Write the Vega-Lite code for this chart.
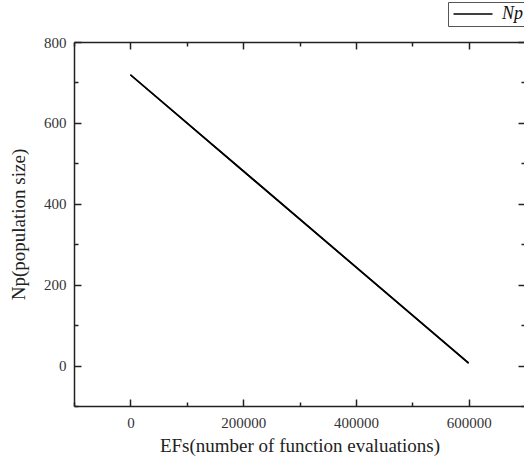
{
  "$schema": "https://vega.github.io/schema/vega-lite/v6.json",
  "width": 451,
  "height": 364,
  "autosize": {"type": "none"},
  "padding": {"left": 74, "top": 42, "right": 0, "bottom": 57},
  "background": "white",
  "config": {
    "view": {"stroke": null}
  },
  "data": {
    "values": [
      {"EFs": 0, "Np": 719, "series": "Np"},
      {"EFs": 600000, "Np": 6, "series": "Np"}
    ]
  },
  "layer": [
    {
      "mark": {"type": "line", "strokeWidth": 1.6},
      "encoding": {
        "x": {
          "field": "EFs", "type": "quantitative",
          "scale": {"domain": [-100000, 700000], "nice": false},
          "axis": {
            "orient": "bottom",
            "grid": false,
            "domainColor": "#222222", "domainWidth": 1.5,
            "tickColor": "#222222", "tickWidth": 1.5,
            "labelFont": "Liberation Serif", "labelFontSize": 15, "labelColor": "#333333",
            "titleFont": "Liberation Serif", "titleFontSize": 19, "titleFontWeight": "normal", "titleColor": "#222222",
            "title": "EFs(number of function evaluations)",
            "values": [-100000, 0, 100000, 200000, 300000, 400000, 500000, 600000, 700000],
            "format": "d",
            "labelExpr": "datum.value % 200000 === 0 ? datum.label : ''",
            "tickSize": -7,
            "tickDash": {"condition": {"test": "datum.value % 200000 === 0", "value": [10, 0]}, "value": [4, 20]},
            "labelPadding": 16,
            "titlePadding": 6
          }
        },
        "y": {
          "field": "Np", "type": "quantitative",
          "scale": {"domain": [-100, 800], "nice": false},
          "axis": {
            "orient": "left",
            "grid": false,
            "domainColor": "#222222", "domainWidth": 1.5,
            "tickColor": "#222222", "tickWidth": 1.5,
            "labelFont": "Liberation Serif", "labelFontSize": 15, "labelColor": "#333333",
            "titleFont": "Liberation Serif", "titleFontSize": 19, "titleFontWeight": "normal", "titleColor": "#222222",
            "title": "Np(population size)",
            "values": [-100, 0, 100, 200, 300, 400, 500, 600, 700, 800],
            "labelExpr": "datum.value % 200 === 0 ? datum.label : ''",
            "tickSize": -7,
            "tickDash": {"condition": {"test": "datum.value % 200 === 0", "value": [10, 0]}, "value": [4, 20]},
            "labelPadding": 15,
            "titlePadding": 15
          }
        },
        "color": {
          "field": "series", "type": "nominal",
          "scale": {"range": ["black"]},
          "legend": {
            "orient": "none",
            "legendX": 374,
            "legendY": -40,
            "title": null,
            "symbolType": "M-1,0H5",
            "symbolSize": 169,
            "symbolStrokeWidth": 1.5,
            "labelFont": "Liberation Serif",
            "labelFontStyle": "italic",
            "labelFontSize": 18,
            "labelColor": "#111111",
            "labelOffset": 33,
            "strokeColor": "#555555",
            "fillColor": "white",
            "padding": 3
          }
        }
      }
    },
    {
      "mark": {"type": "line", "strokeWidth": 1.6, "color": "black"},
      "encoding": {
        "x": {
          "field": "EFs", "type": "quantitative",
          "axis": {
            "orient": "top",
            "grid": false,
            "domainColor": "#222222", "domainWidth": 1.5,
            "tickColor": "#222222", "tickWidth": 1.5,
            "title": null,
            "labels": false,
            "values": [-100000, 0, 100000, 200000, 300000, 400000, 500000, 600000, 700000],
            "tickSize": -7,
            "tickDash": {"condition": {"test": "datum.value % 200000 === 0", "value": [10, 0]}, "value": [4, 20]}
          }
        },
        "y": {
          "field": "Np", "type": "quantitative",
          "axis": {
            "orient": "right",
            "grid": false,
            "domainColor": "#222222", "domainWidth": 1.5,
            "tickColor": "#222222", "tickWidth": 1.5,
            "title": null,
            "labels": false,
            "values": [-100, 0, 100, 200, 300, 400, 500, 600, 700, 800],
            "tickSize": -7,
            "tickDash": {"condition": {"test": "datum.value % 200 === 0", "value": [10, 0]}, "value": [4, 20]}
          }
        }
      }
    }
  ],
  "resolve": {"axis": {"x": "independent", "y": "independent"}}
}
